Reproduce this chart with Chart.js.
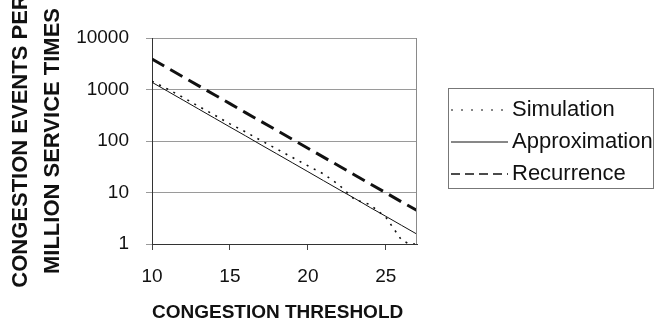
<!DOCTYPE html>
<html>
<head>
<meta charset="utf-8">
<script src="https://cdn.jsdelivr.net/npm/chart.js@4"></script>
<style>
  html, body { margin: 0; padding: 0; background: #fff; }
  #wrap { position: relative; width: 655px; height: 329px; }
</style>
</head>
<body>
<div id="wrap"><canvas id="congestionChart"></canvas></div>
<script>
const thresholds = [10, 11, 12, 13, 14, 15, 16, 17, 18, 19, 20, 21, 22, 23, 24, 25, 26, 27];
const approximation = [1380, 926, 621, 416, 279, 187, 126, 84, 56.5, 37.9, 25.4, 17.0, 11.4, 7.7, 5.1, 3.45, 2.31, 1.55];
const recurrence = [3890, 2612, 1754, 1178, 791, 531, 356, 239, 161, 108, 72.4, 48.6, 32.7, 21.9, 14.7, 9.9, 6.6, 4.5];

const simThresholds = [10, 11, 12, 13, 14, 15, 16, 17, 18, 19, 20, 21, 22, 23, 24, 25, 25.5, 26, 26.5, 27];
const simulation = [1450, 1020, 700, 470, 320, 215, 150, 102, 70, 48, 33, 23, 14, 7.3, 5.8, 3.3, 2.0, 1.2, 1, 1];

const xTicks = [10, 15, 20, 25];
const yTicks = [1, 10, 100, 1000, 10000];

const pairs = (xs, ys) => xs.map((x, i) => ({ x, y: ys[i] }));

// plot frame on the right + boxed legend to the right of the plot
const frameAndLegend = {
  id: 'frameAndLegend',
  afterDraw(chart) {
    const { ctx, chartArea: a } = chart;
    ctx.save();
    ctx.strokeStyle = '#8a8a8a';
    ctx.lineWidth = 1;
    ctx.beginPath();
    ctx.moveTo(a.right - 0.5, a.top);
    ctx.lineTo(a.right - 0.5, a.bottom);
    ctx.stroke();

    ctx.strokeStyle = '#777';
    ctx.strokeRect(448.5, 88.5, 205, 100);

    ctx.font = '22px "Liberation Sans", Arial, sans-serif';
    ctx.textBaseline = 'middle';
    ctx.fillStyle = '#111';
    chart.data.datasets.forEach((ds, i) => {
      const y = 110 + i * 32;
      ctx.strokeStyle = '#111';
      ctx.lineWidth = ds.legendWidth;
      ctx.setLineDash(ds.legendDash);
      ctx.beginPath();
      ctx.moveTo(451, y);
      ctx.lineTo(508, y);
      ctx.stroke();
      ctx.setLineDash([]);
      ctx.fillText(ds.label, 512, y);
    });
    ctx.restore();
  }
};

new Chart(document.getElementById('congestionChart'), {
  type: 'line',
  data: {
    datasets: [
      {
        label: 'Simulation',
        data: pairs(simThresholds, simulation),
        borderColor: '#111',
        borderWidth: 1.6,
        borderDash: [2, 6],
        pointRadius: 0,
        legendDash: [2, 8],
        legendWidth: 1.2
      },
      {
        label: 'Approximation',
        data: pairs(thresholds, approximation),
        borderColor: '#111',
        borderWidth: 1,
        pointRadius: 0,
        legendDash: [],
        legendWidth: 1
      },
      {
        label: 'Recurrence',
        data: pairs(thresholds, recurrence),
        borderColor: '#111',
        borderWidth: 3,
        borderDash: [14, 7],
        pointRadius: 0,
        legendDash: [9, 5],
        legendWidth: 1.3
      }
    ]
  },
  options: {
    responsive: true,
    maintainAspectRatio: false,
    animation: false,
    layout: { padding: { left: 0, top: 38, right: 238, bottom: 0 } },
    plugins: {
      legend: { display: false },
      tooltip: { enabled: false }
    },
    scales: {
      x: {
        type: 'linear',
        min: 10,
        max: 27,
        afterBuildTicks: s => { s.ticks = xTicks.map(v => ({ value: v })); },
        afterFit: s => { s.height = 85; },
        ticks: {
          color: '#111',
          padding: 15,
          font: { family: '"Liberation Sans", Arial, sans-serif', size: 19 }
        },
        grid: { drawOnChartArea: false, drawTicks: true, tickLength: 6, color: '#444' },
        border: { color: '#333', width: 1 },
        title: {
          display: true,
          text: 'CONGESTION THRESHOLD',
          align: 'start',
          color: '#111',
          padding: { top: 0, bottom: 5 },
          font: { family: '"Liberation Sans", Arial, sans-serif', size: 19, weight: 'bold' }
        }
      },
      y: {
        type: 'logarithmic',
        min: 1,
        max: 10000,
        afterBuildTicks: s => { s.ticks = yTicks.map(v => ({ value: v })); },
        afterFit: s => { s.width = 152; },
        ticks: {
          color: '#111',
          padding: 17,
          callback: v => String(v),
          font: { family: '"Liberation Sans", Arial, sans-serif', size: 19 }
        },
        grid: { color: '#9a9a9a', tickLength: 6 },
        border: { color: '#333', width: 1 },
        title: {
          display: true,
          text: ['CONGESTION EVENTS PER', 'MILLION SERVICE TIMES'],
          color: '#111',
          padding: { top: 5, bottom: 0 },
          font: { family: '"Liberation Sans", Arial, sans-serif', size: 22, weight: 'bold', lineHeight: 1.45 }
        }
      }
    }
  },
  plugins: [frameAndLegend]
});
</script>
</body>
</html>
